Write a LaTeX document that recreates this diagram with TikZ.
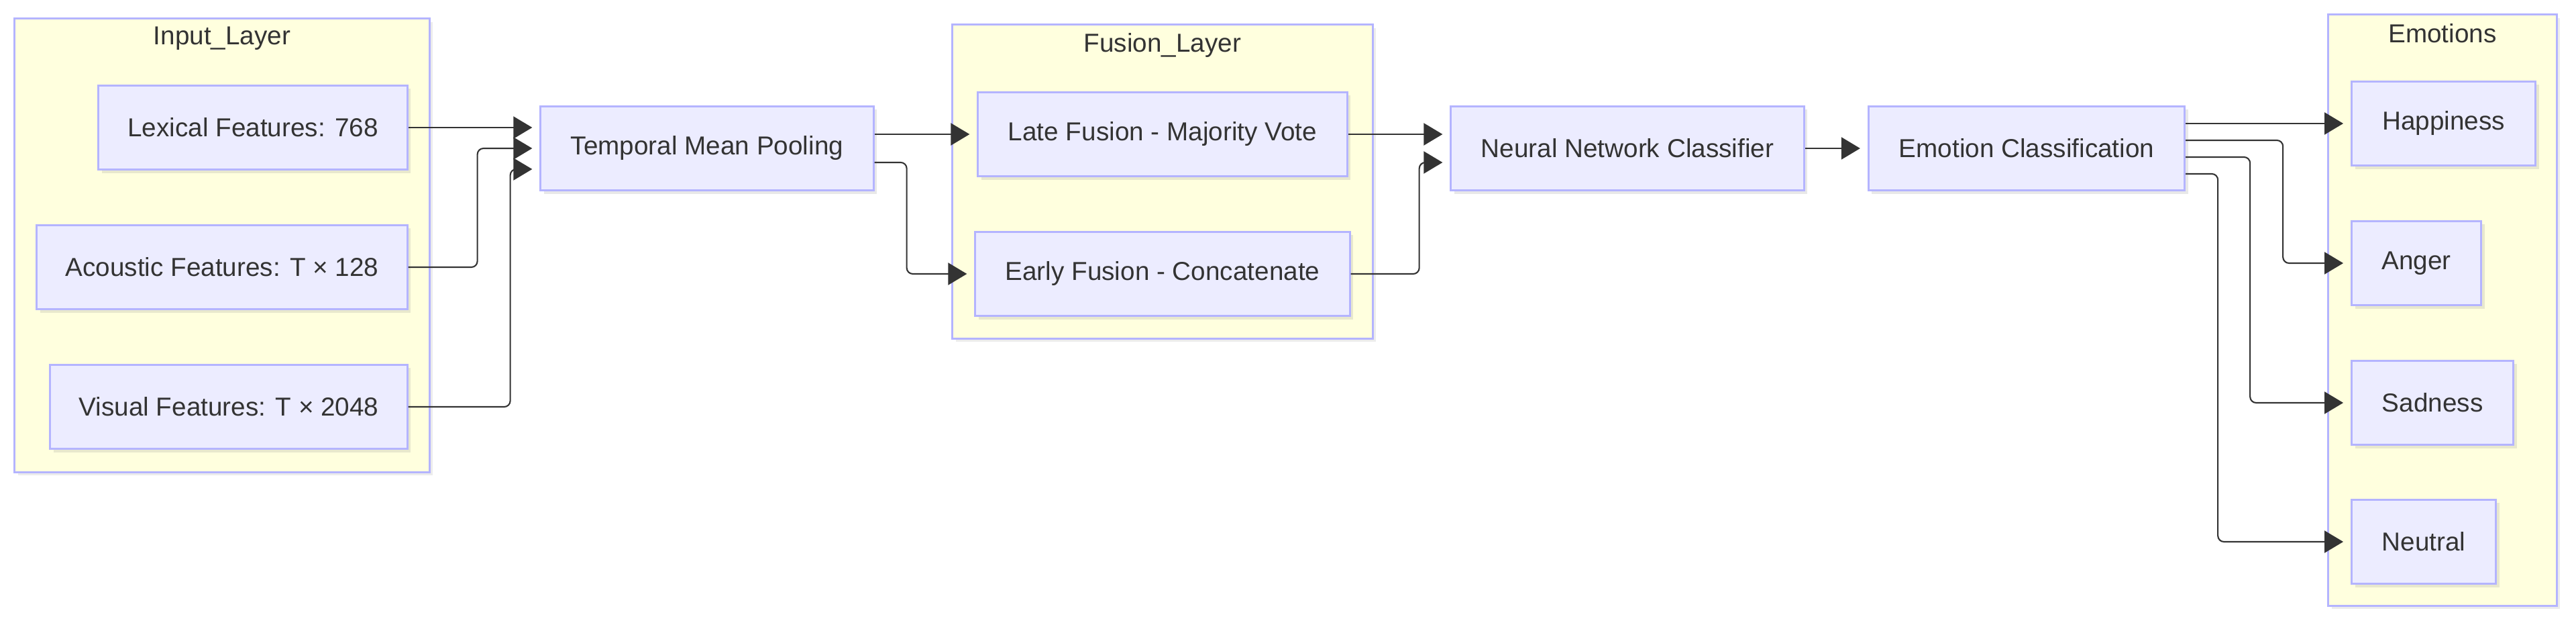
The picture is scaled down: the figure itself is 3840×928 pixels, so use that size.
\documentclass[tikz,border=0pt]{standalone}
\usepackage{fontspec}
\setmainfont{Liberation Sans}
\usetikzlibrary{arrows.meta, positioning, calc, shadows}

\definecolor{boxfill}{HTML}{ECECFF}
\definecolor{boxline}{HTML}{B4B4FF}
\definecolor{clusterfill}{HTML}{FFFFDE}
\definecolor{inkgray}{HTML}{333333}

\begin{document}
\begin{tikzpicture}[x=0.01cm, y=-0.01cm, font=\fontsize{11}{13}\selectfont, text=inkgray]
            \tikzstyle{box} = [rectangle, minimum height=1.25cm, inner xsep=0pt, text centered, draw=boxline, line width=0.85pt, fill=boxfill, drop shadow={shadow xshift=0.05cm, shadow yshift=-0.05cm, opacity=0.18}]
            \tikzstyle{cluster} = [rectangle, draw=boxline, line width=0.85pt, fill=clusterfill, drop shadow={shadow xshift=0.05cm, shadow yshift=-0.05cm, opacity=0.15}]
            \tikzstyle{title} = [inner sep=0pt, text=inkgray]
            \tikzstyle{arrow} = [draw=inkgray, line width=0.6pt, rounded corners=0.09cm, -{Triangle[length=0.28cm, width=0.33cm]}, shorten >=0.11cm]

            \useasboundingbox (0,0) rectangle (3840,928);

            % groups
            \node (inputlayer) [cluster, minimum width=6.18cm, minimum height=6.75cm] at (331,365.5) {};
            \node (inputtitle) [title] at (331,57) {Input\_Layer};
            \node (fusionlayer) [cluster, minimum width=6.26cm, minimum height=4.67cm] at (1733,270.5) {};
            \node (fusiontitle) [title] at (1733,68) {Fusion\_Layer};
            \node (emotions) [cluster, minimum width=3.4cm, minimum height=8.8cm] at (3641,462) {};
            \node (emotitle) [title] at (3641,50) {Emotions};

            \node (lex) [box, minimum width=4.6cm] at (377,190) {Lexical Features: 768};
            \node (aco) [box, minimum width=5.52cm] at (331,398) {Acoustic Features: T × 128};
            \node (vis) [box, minimum width=5.32cm] at (341,606) {Visual Features: T × 2048};

            \node (tmp) [box, minimum width=4.96cm] at (1054,221) {Temporal Mean Pooling};
            \node (late) [box, minimum width=5.5cm] at (1733,200) {Late Fusion - Majority Vote};
            \node (early) [box, minimum width=5.58cm] at (1733,408) {Early Fusion - Concatenate};
            \node (nnc) [box, minimum width=5.26cm] at (2426,221) {Neural Network Classifier};
            \node (ec) [box, minimum width=4.71cm] at (3021,221) {Emotion Classification};

            \node (hap) [box, minimum width=2.74cm, anchor=west] at (3504,184) {Happiness};
            \node (ang) [box, minimum width=1.93cm, anchor=west] at (3504,392) {Anger};
            \node (sad) [box, minimum width=2.41cm, anchor=west] at (3504,600) {Sadness};
            \node (neu) [box, minimum width=2.15cm, anchor=west] at (3504,807) {Neutral};

            \draw [arrow] (lex.east) -- (tmp.west |- lex.east);
            \draw [arrow] (aco.east) -- ++(103,0) |- (tmp.west);
            \draw [arrow] (vis.east) -- ++(152,0) |- ($(tmp.west)+(0,31)$);
            \draw [arrow] (tmp.east |- late.west) -- (late.west);
            \draw [arrow] ($(tmp.east)+(0,21)$) -- ++(48,0) |- (early.west);
            \draw [arrow] (late.east) -- (nnc.west |- late.east);
            \draw [arrow] (early.east) -- ++(102,0) |- ($(nnc.west)+(0,21)$);
            \draw [arrow] (nnc.east) -- (ec.west);
            \draw [arrow] (ec.east |- hap.west) -- (hap.west);
            \draw [arrow] ($(ec.east)+(0,-12)$) -- ++(145,0) |- (ang.west);
            \draw [arrow] ($(ec.east)+(0,13)$) -- ++(96,0) |- (sad.west);
            \draw [arrow] ($(ec.east)+(0,38)$) -- ++(48,0) |- (neu.west);
        \end{tikzpicture}
\end{document}
